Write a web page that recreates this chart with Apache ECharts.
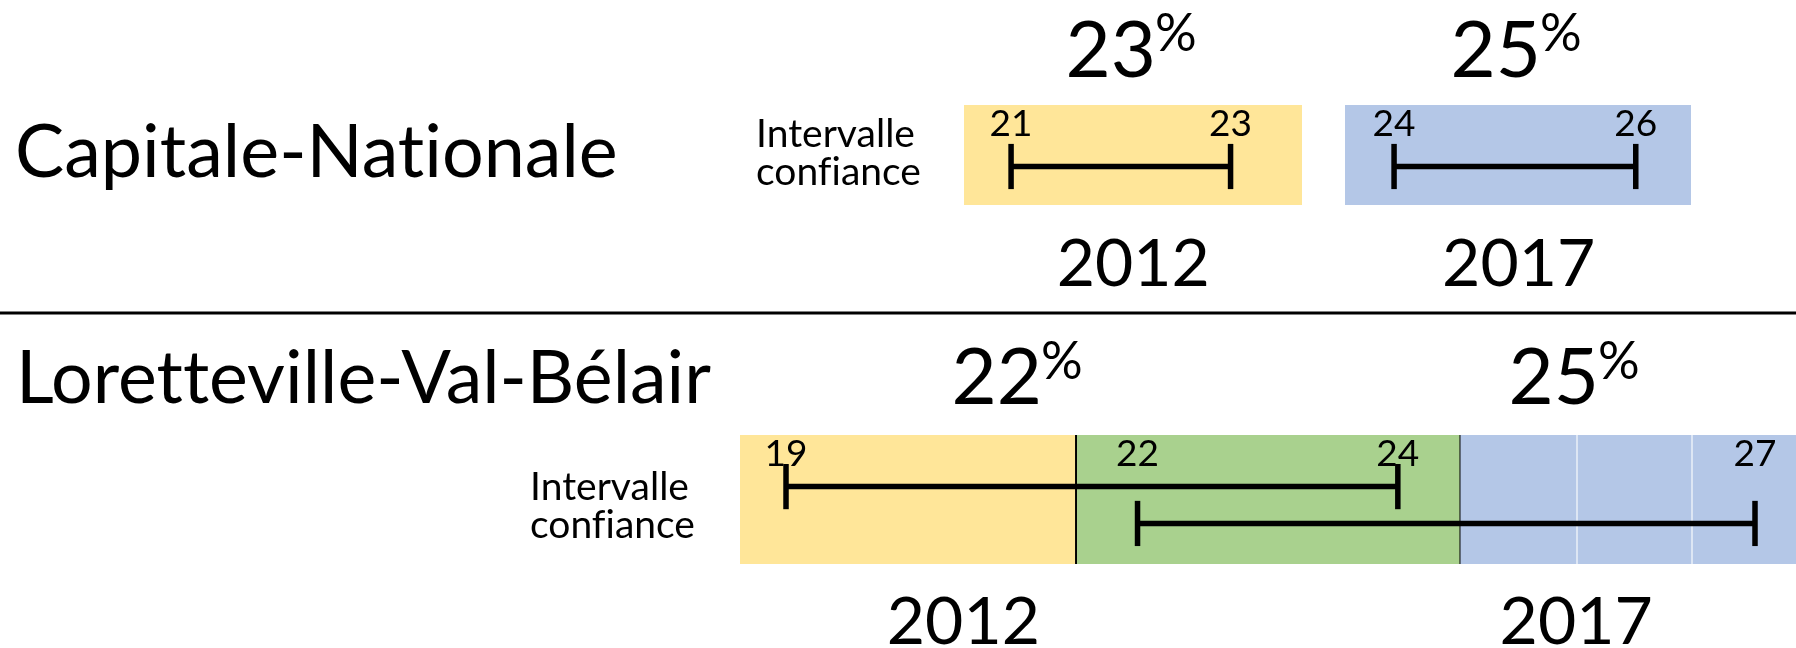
<!DOCTYPE html>
<html><head><meta charset="utf-8">
<script src="https://cdn.jsdelivr.net/npm/echarts@6/dist/echarts.min.js"></script>
<style>html,body{margin:0;padding:0;background:#fff}#chart{width:1796px;height:648px}</style>
</head><body><div id="chart"></div>
<script>
// ---------------- data ----------------
const regions = ['Capitale-Nationale', 'Loretteville-Val-Bélair'];
const years = ['2012', '2017'];
const capNatRate = [23, 25];
const capNatLow = [21, 24];
const capNatHigh = [23, 26];
const lvbRate = [22, 25];
const lvbLow = [19, 22];
const lvbHigh = [24, 27];
const ciLabel = ['Intervalle', 'confiance'];

// ---------------- style / layout ----------------
// the reference text has no ligatures: a tiny letter spacing switches them off in canvas text
(function () {
  const proto = CanvasRenderingContext2D.prototype;
  const origFill = proto.fillText;
  proto.fillText = function () {
    if ('letterSpacing' in this) this.letterSpacing = '0.01px';
    return origFill.apply(this, arguments);
  };
})();

const FONT = 'Lato, "Open Sans", sans-serif';
const YELLOW = '#FFE699', BLUE = '#B4C7E7', GREEN = '#A9D18E';
const boxColors = [YELLOW, BLUE, GREEN];
const BAR_W = 5.5, CAP_W = 5.5, CAP_HALF = 22.6;
const TICK_SIZE = 37, TICK_DY = 18.9;
const MID = 0.31; // Lato: em-middle above baseline, in em

// padding of the shaded boxes around each interval (axis units)
const padTop2012 = [0.429, 0.651], padTop2017 = [0.406, 0.457];
const padBot2012 = [0.376, 0.512], padBot2017 = [0.498, 0.332];

// axis extents
const ax0 = [capNatLow[0] - padTop2012[0], capNatHigh[0] + padTop2012[1]];
const ax1 = [capNatLow[1] - padTop2017[0], capNatHigh[1] + padTop2017[1]];
const ax2 = [lvbLow[0] - padBot2012[0], 27.254];
const ax3 = [18.781, lvbHigh[1] + padBot2017[1]];
const toA = v => ax2[0] + (v - ax3[0]) * (ax2[1] - ax2[0]) / (ax3[1] - ax3[0]);

const boxAStart = lvbLow[0] - padBot2012[0];
const boxAEnd = lvbHigh[0] + padBot2012[1];
const boxBStartA = toA(lvbLow[1] - padBot2017[0]);
const boxBEndA = toA(lvbHigh[1] + padBot2017[1]);

function inkWidth(text, size) {
  const c = document.createElement('canvas').getContext('2d');
  c.font = size + 'px Lato';
  if ('letterSpacing' in c) c.letterSpacing = '0.01px';
  const m = c.measureText(text);
  return m.actualBoundingBoxLeft + m.actualBoundingBoxRight;
}
function fitSize(text, target) { return 100 * target / inkWidth(text, 100); }

function renderBox(params, api) {
  const cs = params.coordSys;
  const x0 = api.coord([api.value(0), 0])[0];
  const x1 = api.coord([api.value(1), 0])[0];
  const children = [{
    type: 'rect',
    shape: { x: x0, y: cs.y, width: x1 - x0, height: cs.height },
    style: { fill: boxColors[api.value(2)] }
  }];
  if (api.value(3)) {
    children.push({ type: 'line', shape: { x1: x0, y1: cs.y, x2: x0, y2: cs.y + cs.height }, style: { stroke: '#000', lineWidth: 2 } });
    children.push({ type: 'line', shape: { x1: x1, y1: cs.y, x2: x1, y2: cs.y + cs.height }, style: { stroke: '#000', lineWidth: 2 } });
  }
  return { type: 'group', children };
}

function renderCI(params, api) {
  const cs = params.coordSys;
  const lo = api.value(0), hi = api.value(1), row = api.value(2);
  const p0 = api.coord([lo, row]), p1 = api.coord([hi, row]);
  const tstyle = (t, x) => ({
    type: 'text',
    style: { text: String(t), x: x, y: cs.y + TICK_DY, align: 'center', verticalAlign: 'middle',
      fontSize: TICK_SIZE, fontFamily: FONT, fill: '#000' }
  });
  return {
    type: 'group',
    children: [
      { type: 'line', shape: { x1: p0[0], y1: p0[1], x2: p1[0], y2: p1[1] }, style: { stroke: '#000', lineWidth: BAR_W } },
      { type: 'line', shape: { x1: p0[0], y1: p0[1] - CAP_HALF, x2: p0[0], y2: p0[1] + CAP_HALF }, style: { stroke: '#000', lineWidth: CAP_W } },
      { type: 'line', shape: { x1: p1[0], y1: p1[1] - CAP_HALF, x2: p1[0], y2: p1[1] + CAP_HALF }, style: { stroke: '#000', lineWidth: CAP_W } },
      tstyle(lo, p0[0]),
      tstyle(hi, p1[0])
    ]
  };
}

const titleSize0 = fitSize(regions[0], 597);
const titleSize1 = fitSize(regions[1], 688);
const PCT_SIZE = 78, SUP_SIZE = 52, YEAR_SIZE = 66, CI_SIZE = 39;

function txt(text, x, baseline, size, align) {
  return { type: 'text', x: x, y: baseline - MID * size,
    style: { text: text, fontSize: size, fontFamily: FONT, fill: '#000', align: align, verticalAlign: 'middle' } };
}
function pct(value, anchorX, baseline, supBaseline) {
  return [txt(String(value), anchorX, baseline, PCT_SIZE, 'right'),
          txt('%', anchorX - 1, supBaseline, SUP_SIZE, 'left')];
}
function ciText(x, firstBaseline) {
  const lh = 38.3;
  return { type: 'text', x: x, y: firstBaseline - MID * CI_SIZE - lh / 2,
    style: { text: ciLabel.join('\n'), fontSize: CI_SIZE, fontFamily: FONT, fill: '#000',
      align: 'left', verticalAlign: 'top', lineHeight: lh } };
}

const chart = echarts.init(document.getElementById('chart'));
const option = {
  animation: false,
  backgroundColor: '#fff',
  grid: [
    { left: 964, top: 105, width: 338, height: 100 },
    { left: 1345, top: 105, width: 346, height: 100 },
    { left: 740, top: 435, width: 1056, height: 129 }
  ],
  xAxis: [
    { type: 'value', gridIndex: 0, min: ax0[0], max: ax0[1], show: false },
    { type: 'value', gridIndex: 1, min: ax1[0], max: ax1[1], show: false },
    { type: 'value', gridIndex: 2, min: ax2[0], max: ax2[1], show: false },
    { type: 'value', gridIndex: 2, min: ax3[0], max: ax3[1], show: false }
  ],
  yAxis: [
    { type: 'value', gridIndex: 0, min: -1.23, max: 0.77, inverse: true, show: false },
    { type: 'value', gridIndex: 1, min: -1.23, max: 0.77, inverse: true, show: false },
    { type: 'value', gridIndex: 2, min: -1.4, max: 2.1, inverse: true, show: false }
  ],
  series: [
    { type: 'custom', xAxisIndex: 0, yAxisIndex: 0, z: 1, silent: true, renderItem: renderBox,
      data: [[ax0[0], ax0[1], 0, 0]] },
    { type: 'custom', xAxisIndex: 1, yAxisIndex: 1, z: 1, silent: true, renderItem: renderBox,
      data: [[ax1[0], ax1[1], 1, 0]] },
    { type: 'custom', xAxisIndex: 2, yAxisIndex: 2, z: 1, silent: true, renderItem: renderBox,
      data: [[boxAStart, boxBStartA, 0, 0], [boxBStartA, boxAEnd, 2, 1], [boxAEnd, boxBEndA, 1, 0]],
      markLine: { silent: true, symbol: 'none', label: { show: false }, z: 2,
        lineStyle: { color: 'rgba(255,255,255,0.55)', width: 2, type: 'solid' },
        data: [{ xAxis: 25.46 }, { xAxis: 26.40 }] } },
    { type: 'custom', xAxisIndex: 0, yAxisIndex: 0, z: 5, silent: true, renderItem: renderCI,
      data: [[capNatLow[0], capNatHigh[0], 0]] },
    { type: 'custom', xAxisIndex: 1, yAxisIndex: 1, z: 5, silent: true, renderItem: renderCI,
      data: [[capNatLow[1], capNatHigh[1], 0]] },
    { type: 'custom', xAxisIndex: 2, yAxisIndex: 2, z: 5, silent: true, renderItem: renderCI,
      data: [[lvbLow[0], lvbHigh[0], 0]] },
    { type: 'custom', xAxisIndex: 3, yAxisIndex: 2, z: 5, silent: true, renderItem: renderCI,
      data: [[lvbLow[1], lvbHigh[1], 1]] }
  ],
  graphic: [
    txt(regions[0], 15, 176, titleSize0, 'left'),
    txt(regions[1], 16, 401.7, titleSize1, 'left'),
    { type: 'line', shape: { x1: 0, y1: 313, x2: 1796, y2: 313 }, style: { stroke: '#000', lineWidth: 3 } },
    ...pct(capNatRate[0], 1156, 76, 50),
    ...pct(capNatRate[1], 1541, 76, 50),
    ...pct(lvbRate[0], 1042, 403.3, 378.3),
    ...pct(lvbRate[1], 1599, 403.3, 378.3),
    txt(years[0], 1133.3, 285, YEAR_SIZE, 'center'),
    txt(years[1], 1518.7, 285, YEAR_SIZE, 'center'),
    txt(years[0], 963.4, 643.3, YEAR_SIZE, 'center'),
    txt(years[1], 1576.2, 643.3, YEAR_SIZE, 'center'),
    ciText(756, 146.7),
    ciText(530, 499.3)
  ]
};
chart.setOption(option);
</script>
</body></html>
